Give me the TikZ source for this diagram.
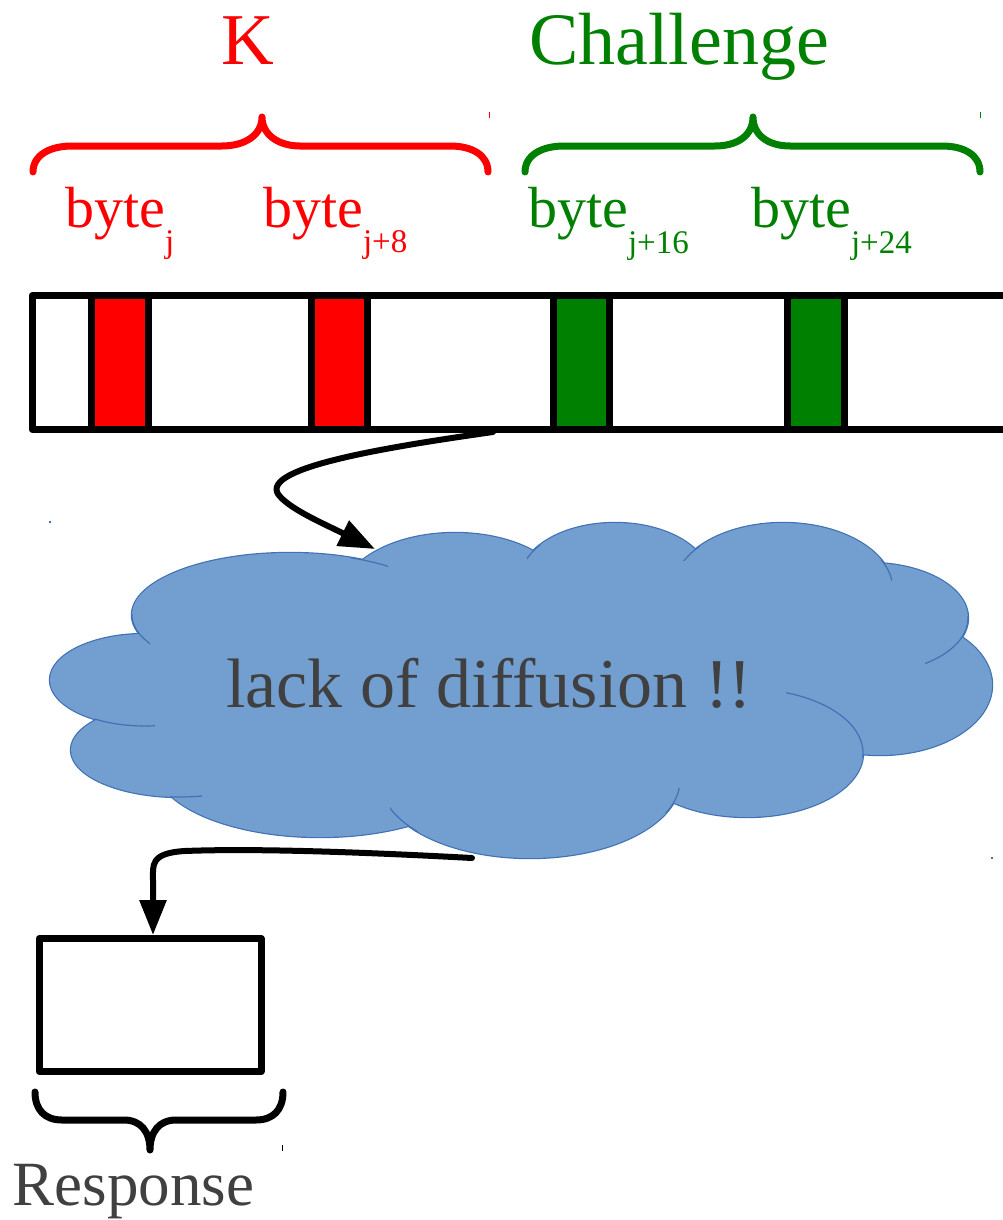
\documentclass[tikz,border=0pt]{standalone}
\usepackage{fontspec}
\setmainfont{Liberation Serif}
\usetikzlibrary{arrows.meta}
\definecolor{kred}{RGB}{255,0,0}
\definecolor{cgreen}{RGB}{0,128,0}
\definecolor{cloudfill}{RGB}{114,159,207}
\definecolor{cloudline}{RGB}{65,113,180}
\definecolor{txtgrey}{RGB}{64,64,64}
\tikzset{
  barline/.style={line width=7pt, line join=round},
  bracestyle/.style={line width=7pt, line cap=round, line join=round},
  flowarrow/.style={line width=6pt, line cap=round},
  cloudout/.style={draw=cloudline, line width=2.4pt},
  cloudin/.style={fill=cloudfill, draw=none},
  cloudarc/.style={draw=cloudline, line width=1.2pt},
  lbl/.style={inner sep=0pt, anchor=base},
  tick/.style={line width=1pt}
}
\begin{document}
\begin{tikzpicture}[x=1pt,y=-1pt]
\useasboundingbox (0,0) rectangle (1003,1220);
\clip (0,0) rectangle (1003,1220);

% titles
\node[lbl, text=kred, font=\fontsize{73}{80}\selectfont] (ktitle) at (248,65) {K};
\node[lbl, text=cgreen, font=\fontsize{74}{80}\selectfont] (ctitle) at (679,65) {Challenge};

% braces
\draw[bracestyle, kred] (33,172) .. controls (33,155) and (50,146) .. (72,146) -- (222,146)
  .. controls (245,146) and (262,135) .. (262,117) .. controls (262,135) and (279,146) .. (300,146)
  -- (450,146) .. controls (472,146) and (488,155) .. (488,172);
\draw[bracestyle, cgreen] (525,172) .. controls (525,155) and (542,146) .. (564,146) -- (715,146)
  .. controls (738,146) and (753,135) .. (753,117) .. controls (753,135) and (768,146) .. (790,146)
  -- (942,146) .. controls (964,146) and (980,155) .. (980,172);
\draw[tick, kred] (489,112) -- (489,118);
\draw[tick, cgreen] (980,112) -- (980,118);

% byte labels
\node[lbl, anchor=base west, text=kred, font=\fontsize{58}{60}\selectfont] (b1) at (65,227)
  {byte\raisebox{-25pt}{\fontsize{33}{33}\selectfont j}};
\node[lbl, anchor=base west, text=kred, font=\fontsize{58}{60}\selectfont] (b2) at (263,227)
  {byte\raisebox{-25pt}{\fontsize{33}{33}\selectfont j+8}};
\node[lbl, anchor=base west, text=cgreen, font=\fontsize{58}{60}\selectfont] (b3) at (528,227)
  {byte\raisebox{-26pt}{\fontsize{33}{33}\selectfont j+16}};
\node[lbl, anchor=base west, text=cgreen, font=\fontsize{58}{60}\selectfont] (b4) at (751,227)
  {byte\raisebox{-26pt}{\fontsize{33}{33}\selectfont j+24}};

% the byte bar
\draw[barline, fill=white] (32,295.5) rectangle (1015,429.5);
\draw[barline, fill=kred] (91,295.5) rectangle (148,429.5);
\draw[barline, fill=kred] (311,295.5) rectangle (367,429.5);
\draw[barline, fill=cgreen] (553.5,295.5) rectangle (609.5,429.5);
\draw[barline, fill=cgreen] (787.5,295.5) rectangle (844,429.5);
\coordinate (barout) at (493,432);

% cloud: outlines first
\foreach \cx/\cy/\rx/\ry in {290/615/158/62, 145/680/95/46, 180/750/109/47, 320/765/165/72,
  530/780/150/78, 747/753/116/64, 880/685/112/70, 870/618/98/55, 783/590/110/67,
  615/580/95/57, 455/600/115/67}
  \path[cloudout] (\cx,\cy) ellipse [x radius=\rx, y radius=\ry];
\foreach \cx/\cy/\rx/\ry in {290/615/158/62, 145/680/95/46, 180/750/109/47, 320/765/165/72,
  530/780/150/78, 747/753/116/64, 880/685/112/70, 870/618/98/55, 783/590/110/67,
  615/580/95/57, 455/600/115/67, 520/690/330/125}
  \path[cloudin] (\cx,\cy) ellipse [x radius=\rx, y radius=\ry];
% inner arcs of the cloud
\foreach \cx/\cy/\rx/\ry/\xa/\ya/\xb/\yb in {
  290/615/158/62/125/614/150/650,
  290/615/158/62/350/555/388/580,
  145/680/95/46/95/700/155/730,
  180/750/109/47/170/785/202/800,
  530/780/150/78/390/800/418/835,
  530/780/150/78/664/788/682/812,
  747/753/116/64/786/688/868/756,
  870/618/98/55/925/616/970/666,
  783/590/110/67/878/560/892/580,
  783/590/110/67/680/536/700/560,
  615/580/95/57/527/545/542/565}
{
  \begin{scope}
    \clip (\xa,\ya) rectangle (\xb,\yb);
    \path[cloudarc] (\cx,\cy) ellipse [x radius=\rx, y radius=\ry];
  \end{scope}
}
\node[lbl, text=txtgrey, font=\fontsize{70}{72}\selectfont] (cloud) at (489,707) {lack of diffusion !!};
\coordinate (cloudin) at (375,549);
\coordinate (cloudout) at (472,858);
\fill[cloudline] (49,521) rectangle (51,523);
\fill[cloudline] (991,857) rectangle (993,859);

% arrow from bar to cloud
\draw[flowarrow, -{Triangle[length=36pt,width=27pt]}] (barout)
  .. controls (380,448) and (262,468) .. (278,494)
  .. controls (288,508) and (320,522) .. (cloudin);

% response box
\draw[barline] (39,938.5) rectangle (261,1071.5);
\coordinate (resptop) at (153,935);
\node[lbl, text=txtgrey, font=\fontsize{63}{66}\selectfont] (resp) at (133.5,1205) {Response};

% arrow from cloud to response
\draw[flowarrow, -{Triangle[length=35pt,width=26pt]}] (cloudout)
  .. controls (380,853) and (260,848) .. (185,851)
  .. controls (150,853) and (153,865) .. (153,880) -- (resptop);

% response brace
\draw[bracestyle] (35,1092) .. controls (35,1110) and (45,1120) .. (62,1120) -- (124,1120)
  .. controls (141,1120) and (150,1132) .. (150,1150) .. controls (150,1132) and (159,1120) .. (176,1120)
  -- (256,1120) .. controls (273,1120) and (283,1110) .. (283,1092);
\draw[tick] (282,1145) -- (282,1151);
\end{tikzpicture}
\end{document}
